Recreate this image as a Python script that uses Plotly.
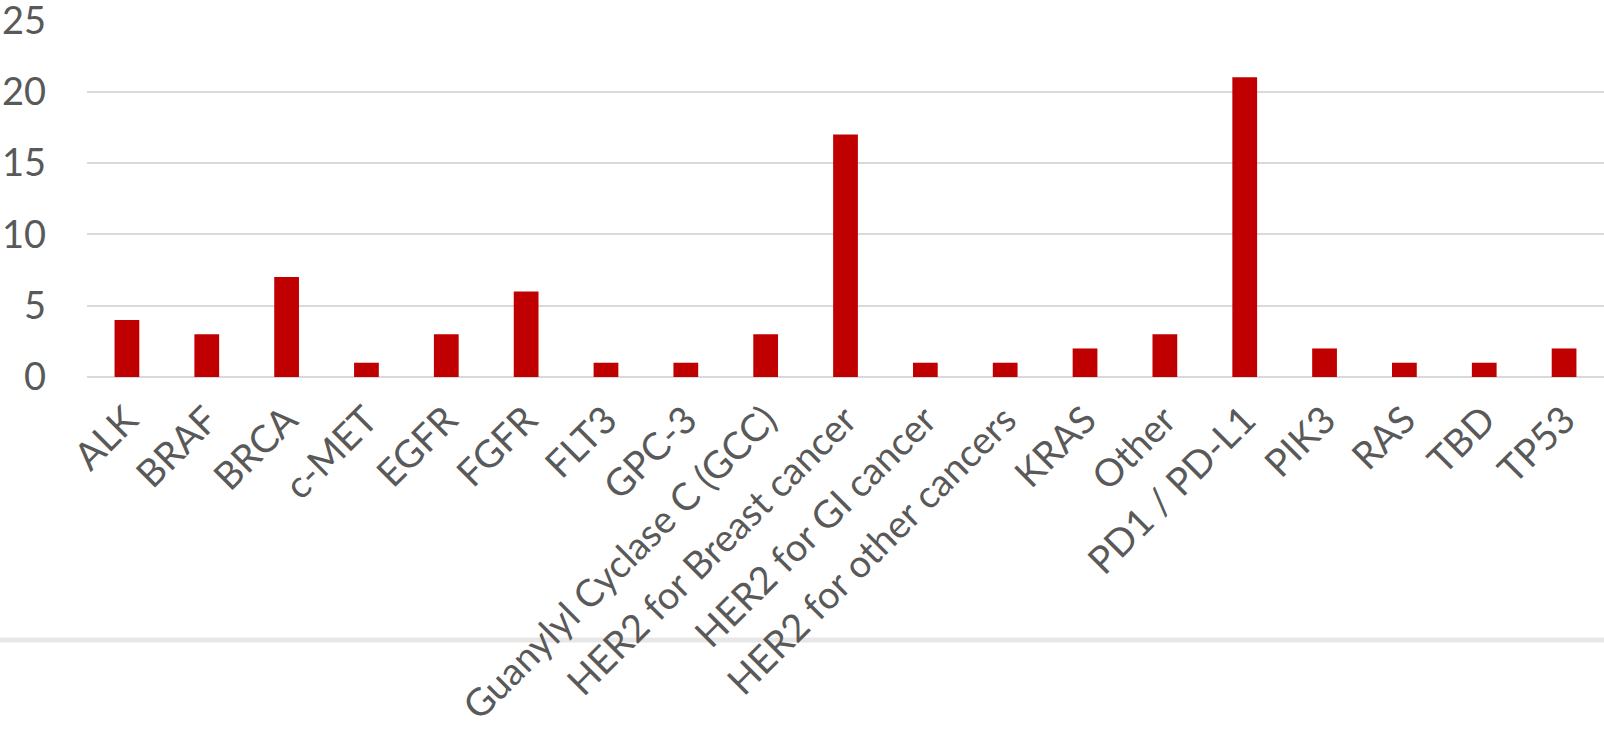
import plotly.graph_objects as go

categories = ["ALK", "BRAF", "BRCA", "c-MET", "EGFR", "FGFR", "FLT3", "GPC-3",
              "Guanylyl Cyclase C (GCC)", "HER2 for Breast cancer", "HER2 for GI cancer",
              "HER2 for other cancers", "KRAS", "Other", "PD1 / PD-L1", "PIK3", "RAS",
              "TBD", "TP53"]
values = [4, 3, 7, 1, 3, 6, 1, 1, 3, 17, 1, 1, 2, 3, 21, 2, 1, 1, 2]
y_ticks = [0, 5, 10, 15, 20, 25]

FONT = "Lato"
GREY = "#595959"

fig = go.Figure(go.Bar(x=categories, y=values, marker=dict(color="#C00000", line=dict(width=0))))

fig.update_layout(
    width=1604, height=735,
    margin=dict(l=87, r=0, t=20, b=358),
    paper_bgcolor="white", plot_bgcolor="white",
    bargap=0.69,
    showlegend=False,
    font=dict(family=FONT, color=GREY, size=38),
    shapes=[dict(type="line", xref="paper", yref="paper", x0=-0.1, x1=1.1,
                 y0=-0.737, y1=-0.737, line=dict(color="#e7e7e7", width=5), layer="below")],
)
fig.update_xaxes(type="category", tickangle=-45, showgrid=False, showline=False,
                 ticks="", tickfont=dict(size=38, color=GREY, family=FONT),
                 ticklabelstandoff=12, automargin=False)
fig.update_yaxes(range=[0, 25.02], tickvals=y_ticks, showgrid=True, gridcolor="#d9d9d9",
                 gridwidth=1.5, zeroline=True, zerolinecolor="#d9d9d9", zerolinewidth=1.5,
                 showline=False, ticks="", tickfont=dict(size=38, color=GREY, family=FONT),
                 ticklabelstandoff=40, automargin=False, ticklabeloverflow="allow")

fig.write_html("out.html")
